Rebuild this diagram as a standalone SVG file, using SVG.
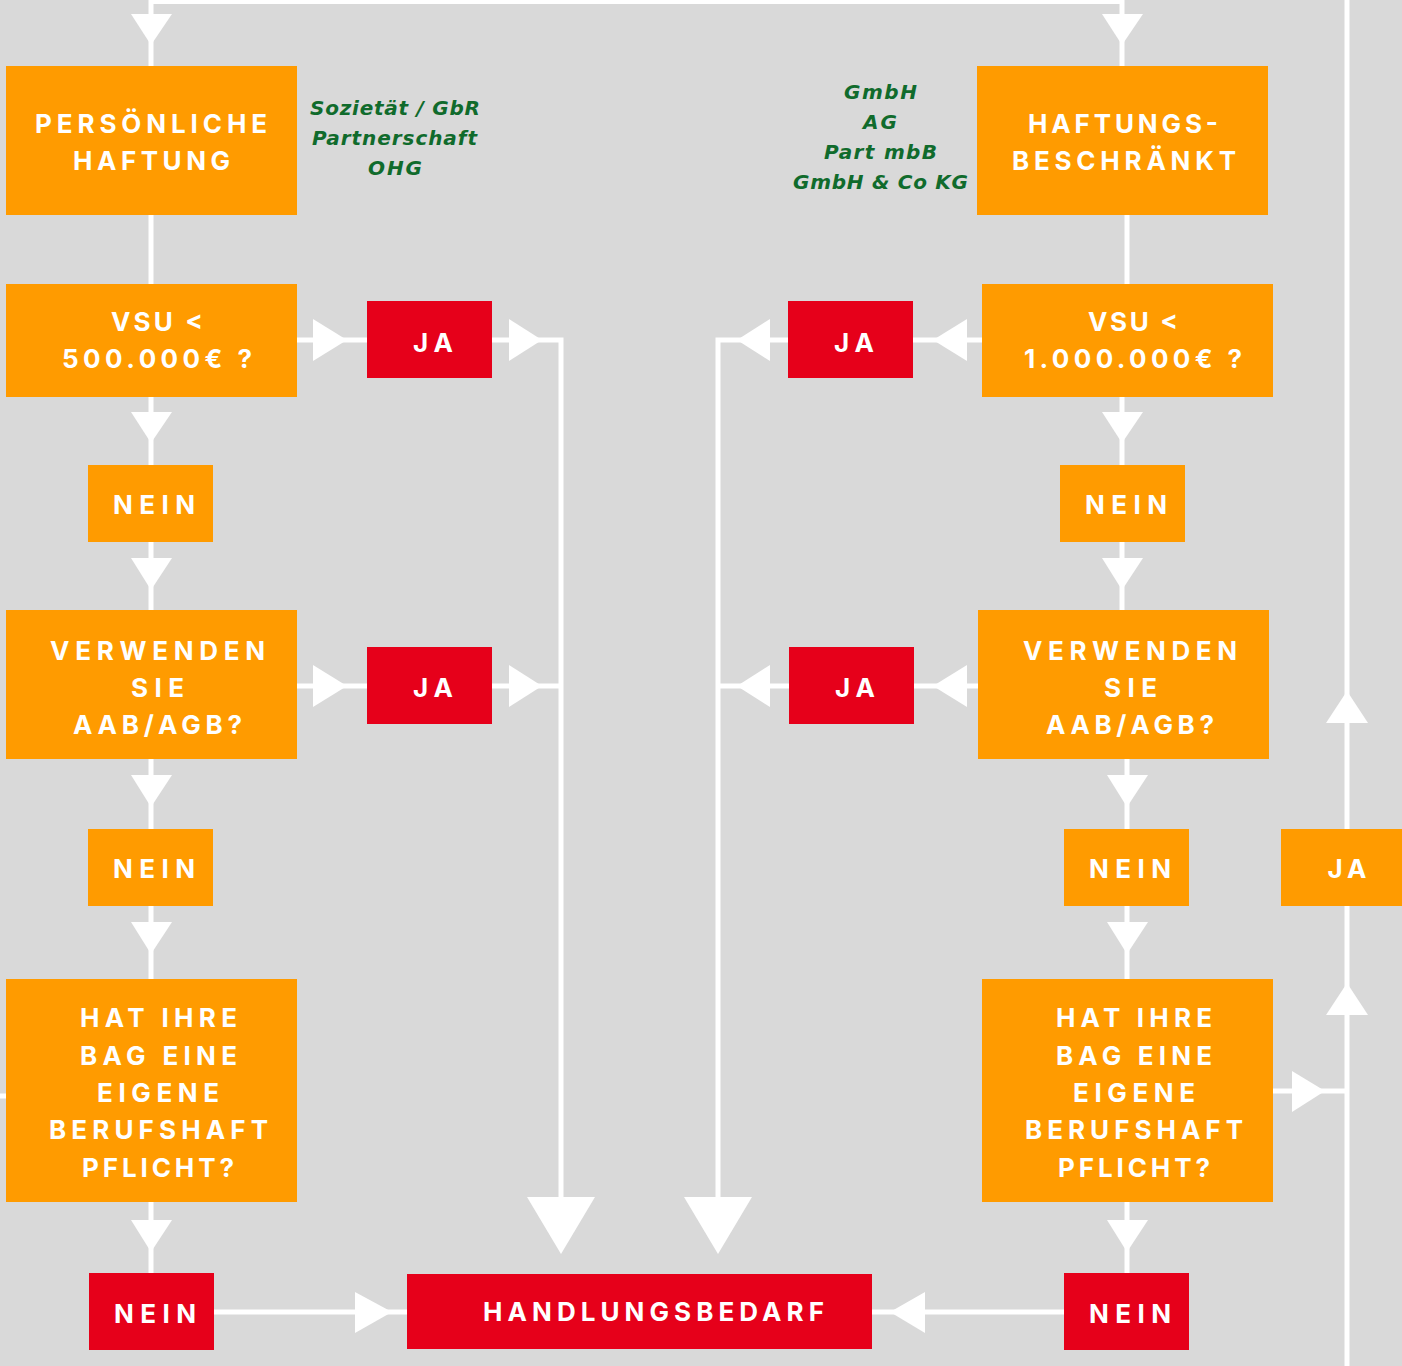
<svg xmlns="http://www.w3.org/2000/svg" width="1402" height="1366" viewBox="0 0 1402 1366">
<style>
.bg{fill:#d9d9d9}
.ob{fill:#ff9b00}
.rb{fill:#e6001a}
.ln{stroke:#ffffff;stroke-width:5;fill:none}
.ah{fill:#ffffff}
.t{font-family:Inter,"Liberation Sans",sans-serif;font-weight:700;font-size:26px;fill:#ffffff;text-anchor:middle}
.g{font-family:"DejaVu Sans","Liberation Sans",sans-serif;font-weight:700;font-style:italic;font-size:20px;fill:#106b2c;text-anchor:middle}
</style>
<rect class="bg" x="0" y="0" width="1402" height="1366"/>

<g id="connectors">
  <polyline class="ln" points="151,66 151,1.5 1122,1.5 1122,66"/>
  <line class="ln" x1="1347" y1="0" x2="1347" y2="1366"/>
  <line class="ln" x1="151" y1="215" x2="151" y2="284"/>
  <line class="ln" x1="151" y1="397" x2="151" y2="465"/>
  <line class="ln" x1="151" y1="542" x2="151" y2="610"/>
  <line class="ln" x1="151" y1="759" x2="151" y2="829"/>
  <line class="ln" x1="151" y1="906" x2="151" y2="979"/>
  <line class="ln" x1="151" y1="1202" x2="151" y2="1273"/>
  <line class="ln" x1="0" y1="1096" x2="6" y2="1096"/>
  <line class="ln" x1="297" y1="340" x2="367" y2="340"/>
  <polyline class="ln" points="492,340 561,340 561,1200"/>
  <line class="ln" x1="297" y1="686" x2="367" y2="686"/>
  <line class="ln" x1="492" y1="686" x2="561" y2="686"/>
  <line class="ln" x1="1127" y1="215" x2="1127" y2="284"/>
  <line class="ln" x1="1122" y1="397" x2="1122" y2="465"/>
  <line class="ln" x1="1122" y1="542" x2="1122" y2="610"/>
  <line class="ln" x1="1127" y1="759" x2="1127" y2="829"/>
  <line class="ln" x1="1127" y1="906" x2="1127" y2="979"/>
  <line class="ln" x1="1127" y1="1202" x2="1127" y2="1273"/>
  <line class="ln" x1="913" y1="340" x2="982" y2="340"/>
  <polyline class="ln" points="788,340 718,340 718,1200"/>
  <line class="ln" x1="914" y1="686" x2="984" y2="686"/>
  <line class="ln" x1="789" y1="686" x2="718" y2="686"/>
  <line class="ln" x1="1273" y1="1091" x2="1347" y2="1091"/>
  <line class="ln" x1="214" y1="1312" x2="407" y2="1312"/>
  <line class="ln" x1="872" y1="1312" x2="1064" y2="1312"/>

  <polygon class="ah" points="131,14 172,14 151,45"/>
  <polygon class="ah" points="131,412 172,412 151,443"/>
  <polygon class="ah" points="131,558 172,558 151,590"/>
  <polygon class="ah" points="131,775 172,775 151,807"/>
  <polygon class="ah" points="131,922 172,922 151,954"/>
  <polygon class="ah" points="131,1220 172,1220 151,1252"/>
  <polygon class="ah" points="1102,14 1143,14 1122,45"/>
  <polygon class="ah" points="1102,412 1143,412 1122,443"/>
  <polygon class="ah" points="1102,558 1143,558 1122,590"/>
  <polygon class="ah" points="1107,775 1148,775 1127,807"/>
  <polygon class="ah" points="1107,922 1148,922 1127,954"/>
  <polygon class="ah" points="1107,1220 1148,1220 1127,1252"/>
  <polygon class="ah" points="313,319 313,361 347,340"/>
  <polygon class="ah" points="509,319 509,361 542,340"/>
  <polygon class="ah" points="313,665 313,707 347,686"/>
  <polygon class="ah" points="509,665 509,707 542,686"/>
  <polygon class="ah" points="1292,1071 1292,1112 1325,1091"/>
  <polygon class="ah" points="355,1292 355,1333 392,1312"/>
  <polygon class="ah" points="967,319 967,361 933,340"/>
  <polygon class="ah" points="770,319 770,361 737,340"/>
  <polygon class="ah" points="967,665 967,707 933,686"/>
  <polygon class="ah" points="770,665 770,707 737,686"/>
  <polygon class="ah" points="925,1292 925,1333 890,1312"/>
  <polygon class="ah" points="527,1197 595,1197 561,1254"/>
  <polygon class="ah" points="684,1197 752,1197 718,1254"/>
  <polygon class="ah" points="1326,723 1368,723 1347,691"/>
  <polygon class="ah" points="1326,1015 1368,1015 1347,983"/>
</g>

<g id="persoenliche-haftung">
  <rect class="ob" x="6" y="66" width="291" height="149"/>
  <text class="t" x="151" y="133" textLength="232" lengthAdjust="spacing">PERSÖNLICHE</text>
  <text class="t" x="151.5" y="170" textLength="157" lengthAdjust="spacing">HAFTUNG</text>
</g>
<g id="rechtsformen-persoenlich">
  <text class="g" x="395" y="115" textLength="170" lengthAdjust="spacing">Sozietät / GbR</text>
  <text class="g" x="394.5" y="145" textLength="165" lengthAdjust="spacing">Partnerschaft</text>
  <text class="g" x="395" y="175" textLength="54" lengthAdjust="spacing">OHG</text>
</g>
<g id="vsu-500">
  <rect class="ob" x="6" y="284" width="291" height="113"/>
  <text class="t" x="157" y="331" textLength="92" lengthAdjust="spacing">VSU &lt;</text>
  <text class="t" x="157" y="368" textLength="190" lengthAdjust="spacing">500.000€ ?</text>
</g>
<g id="ja-1">
  <rect class="rb" x="367" y="301" width="125" height="77"/>
  <text class="t" x="433" y="352" textLength="40" lengthAdjust="spacing">JA</text>
</g>
<g id="nein-1">
  <rect class="ob" x="88" y="465" width="125" height="77"/>
  <text class="t" x="154" y="514" textLength="82" lengthAdjust="spacing">NEIN</text>
</g>
<g id="agb-links">
  <rect class="ob" x="6" y="610" width="291" height="149"/>
  <text class="t" x="157.5" y="660" textLength="215" lengthAdjust="spacing">VERWENDEN</text>
  <text class="t" x="157.5" y="697" textLength="53" lengthAdjust="spacing">SIE</text>
  <text class="t" x="157.5" y="734" textLength="169" lengthAdjust="spacing">AAB/AGB?</text>
</g>
<g id="ja-2">
  <rect class="rb" x="367" y="647" width="125" height="77"/>
  <text class="t" x="433" y="697" textLength="40" lengthAdjust="spacing">JA</text>
</g>
<g id="nein-2">
  <rect class="ob" x="88" y="829" width="125" height="77"/>
  <text class="t" x="154" y="878" textLength="82" lengthAdjust="spacing">NEIN</text>
</g>
<g id="bag-links">
  <rect class="ob" x="6" y="979" width="291" height="223"/>
  <text class="t" x="158.5" y="1027" textLength="157" lengthAdjust="spacing">HAT IHRE</text>
  <text class="t" x="158.5" y="1065" textLength="157" lengthAdjust="spacing">BAG EINE</text>
  <text class="t" x="158" y="1102" textLength="122" lengthAdjust="spacing">EIGENE</text>
  <text class="t" x="158.5" y="1139" textLength="219" lengthAdjust="spacing">BERUFSHAFT</text>
  <text class="t" x="158" y="1177" textLength="152" lengthAdjust="spacing">PFLICHT?</text>
</g>
<g id="nein-3">
  <rect class="rb" x="89" y="1273" width="125" height="77"/>
  <text class="t" x="155" y="1323" textLength="82" lengthAdjust="spacing">NEIN</text>
</g>
<g id="handlungsbedarf">
  <rect class="rb" x="407" y="1274" width="465" height="75"/>
  <text class="t" x="653.5" y="1321" textLength="341" lengthAdjust="spacing">HANDLUNGSBEDARF</text>
</g>

<g id="haftungsbeschraenkt">
  <rect class="ob" x="977" y="66" width="291" height="149"/>
  <text class="t" x="1123" y="133" textLength="190" lengthAdjust="spacing">HAFTUNGS-</text>
  <text class="t" x="1124" y="170" textLength="224" lengthAdjust="spacing">BESCHRÄNKT</text>
</g>
<g id="rechtsformen-beschraenkt">
  <text class="g" x="880.5" y="99" textLength="73" lengthAdjust="spacing">GmbH</text>
  <text class="g" x="880" y="129" textLength="34" lengthAdjust="spacing">AG</text>
  <text class="g" x="880.5" y="159" textLength="113" lengthAdjust="spacing">Part mbB</text>
  <text class="g" x="880.5" y="189" textLength="175" lengthAdjust="spacing">GmbH &amp; Co KG</text>
</g>
<g id="vsu-1000">
  <rect class="ob" x="982" y="284" width="291" height="113"/>
  <text class="t" x="1133" y="331" textLength="90" lengthAdjust="spacing">VSU &lt;</text>
  <text class="t" x="1133" y="368" textLength="218" lengthAdjust="spacing">1.000.000€ ?</text>
</g>
<g id="ja-3">
  <rect class="rb" x="788" y="301" width="125" height="77"/>
  <text class="t" x="854" y="352" textLength="40" lengthAdjust="spacing">JA</text>
</g>
<g id="nein-4">
  <rect class="ob" x="1060" y="465" width="125" height="77"/>
  <text class="t" x="1126" y="514" textLength="82" lengthAdjust="spacing">NEIN</text>
</g>
<g id="agb-rechts">
  <rect class="ob" x="978" y="610" width="291" height="149"/>
  <text class="t" x="1130" y="660" textLength="214" lengthAdjust="spacing">VERWENDEN</text>
  <text class="t" x="1130.5" y="697" textLength="53" lengthAdjust="spacing">SIE</text>
  <text class="t" x="1130" y="734" textLength="168" lengthAdjust="spacing">AAB/AGB?</text>
</g>
<g id="ja-4">
  <rect class="rb" x="789" y="647" width="125" height="77"/>
  <text class="t" x="855" y="697" textLength="40" lengthAdjust="spacing">JA</text>
</g>
<g id="nein-5">
  <rect class="ob" x="1064" y="829" width="125" height="77"/>
  <text class="t" x="1130" y="878" textLength="82" lengthAdjust="spacing">NEIN</text>
</g>
<g id="ja-5">
  <rect class="ob" x="1281" y="829" width="121" height="77"/>
  <text class="t" x="1347" y="878" textLength="39" lengthAdjust="spacing">JA</text>
</g>
<g id="bag-rechts">
  <rect class="ob" x="982" y="979" width="291" height="223"/>
  <text class="t" x="1134" y="1027" textLength="156" lengthAdjust="spacing">HAT IHRE</text>
  <text class="t" x="1134" y="1065" textLength="156" lengthAdjust="spacing">BAG EINE</text>
  <text class="t" x="1134" y="1102" textLength="122" lengthAdjust="spacing">EIGENE</text>
  <text class="t" x="1134" y="1139" textLength="218" lengthAdjust="spacing">BERUFSHAFT</text>
  <text class="t" x="1134" y="1177" textLength="152" lengthAdjust="spacing">PFLICHT?</text>
</g>
<g id="nein-6">
  <rect class="rb" x="1064" y="1273" width="125" height="77"/>
  <text class="t" x="1130" y="1323" textLength="82" lengthAdjust="spacing">NEIN</text>
</g>
</svg>
